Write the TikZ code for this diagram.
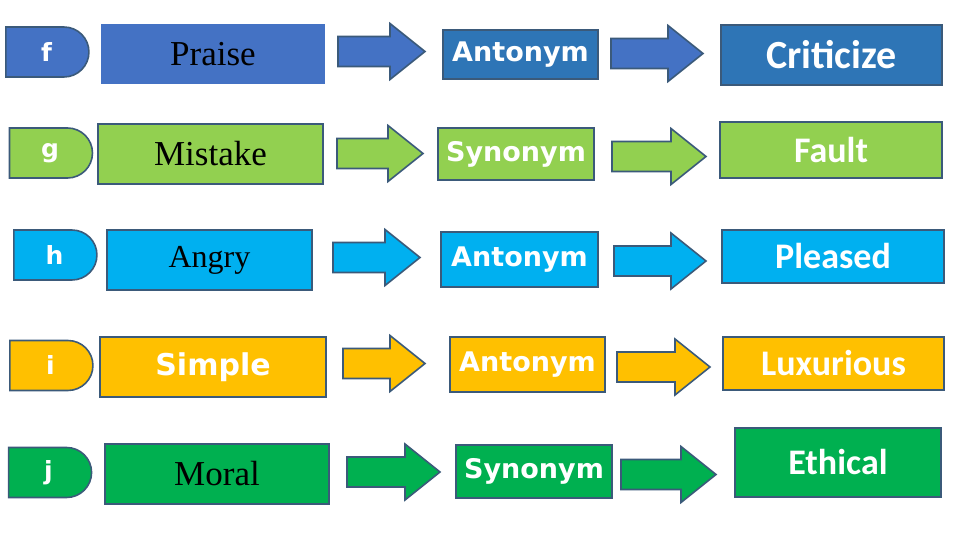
\documentclass[tikz,border=0pt]{standalone}
\usepackage{fontspec}
\setmainfont{Liberation Serif}
\newfontfamily\heavysans{DejaVu Sans}
\newfontfamily\calsans{Carlito}
\usetikzlibrary{shapes.misc}

\definecolor{edge}{HTML}{3B5A7A}
\definecolor{bluef}{HTML}{4472C4}
\definecolor{darkf}{HTML}{2E75B6}
\definecolor{greeng}{HTML}{92D050}
\definecolor{cyanh}{HTML}{00B0F0}
\definecolor{goldi}{HTML}{FFC000}
\definecolor{greenj}{HTML}{00B050}

\begin{document}
\begin{tikzpicture}[
    x=0.5pt, y=-0.5pt,
    tab/.style={rounded rectangle, rounded rectangle west arc=none, draw=edge, line width=0.8pt, fill=#1,
        minimum width=41.5pt, minimum height=25pt, inner sep=0pt, text=white,
        font=\heavysans\bfseries\fontsize{12.5}{12.5}\selectfont},
    word/.style={draw=edge, line width=0.8pt, fill=#1, inner sep=0pt, text=black,
        font=\fontsize{17.5}{18}\selectfont},
    rel/.style={draw=edge, line width=0.8pt, fill=#1, inner sep=0pt, text=white,
        font=\heavysans\bfseries\fontsize{13.5}{13.5}\selectfont},
    res/.style={draw=edge, line width=0.8pt, fill=#1, inner sep=0pt, text=white,
        font=\calsans\bfseries\fontsize{18}{18}\selectfont},
    wh/.style 2 args={minimum width=#1, minimum height=#2},
    pics/blockarrow/.style 2 args={code={
        \draw[draw=edge, line width=0.8pt, fill=#1]
            (-#2/2,-15) -- (#2/2-35,-15) -- (#2/2-35,-28) -- (#2/2,0)
            -- (#2/2-35,28) -- (#2/2-35,15) -- (-#2/2,15) -- cycle;
        \coordinate (-tip) at (#2/2,0);
    }}
]
\fill[white] (0,0) rectangle (960,540);
\useasboundingbox (0,0) rectangle (960,540);

% Row f
\node[tab=bluef] (tf) at (46.5,52) {f};
\node[word=bluef, draw=none, wh={112pt}{30pt}] (praise) at (213,54) {Praise};
\pic (af1) at (381.5,51.5) {blockarrow={bluef}{87}};
\node[rel=darkf, wh={77.5pt}{24.5pt}] (antf) at (520.5,54.5) {Antonym};
\pic (af2) at (657,53.5) {blockarrow={bluef}{92}};
\node[res=darkf, wh={110.5pt}{30pt}, font=\calsans\bfseries\fontsize{20}{20}\selectfont] (crit) at (831.5,55) {Criticize};

% Row g
\node[tab=greeng] (tg) at (50,153) {g};
\node[word=greeng, wh={112.5pt}{30pt}] (mistake) at (210.5,154) {Mistake};
\pic (ag1) at (380,153.5) {blockarrow={greeng}{86}};
\node[rel=greeng, wh={78pt}{26pt}] (syng) at (516,154) {Synonym};
\pic (ag2) at (659,156.5) {blockarrow={greeng}{94}};
\node[res=greeng, wh={111pt}{28pt}] (fault) at (831,150) {Fault};

% Row h
\node[tab=cyanh] (th) at (54.5,255) {h};
\node[word=cyanh, wh={102.5pt}{30pt}, font=\fontsize{16}{16}\selectfont] (angry) at (209.5,260) {Angry};
\pic (ah1) at (376.5,257.5) {blockarrow={cyanh}{87}};
\node[rel=cyanh, wh={78.5pt}{27.5pt}] (anth) at (519.5,259.5) {Antonym};
\pic (ah2) at (660,261) {blockarrow={cyanh}{92}};
\node[res=cyanh, wh={111pt}{26.5pt}] (pleased) at (833,256.5) {Pleased};

% Row i
\node[tab=goldi] (ti) at (50.5,365.5) {i};
\node[rel=goldi, wh={113pt}{30pt}, font=\heavysans\bfseries\fontsize{15}{15}\selectfont] (simple) at (213,367) {Simple};
\pic (ai1) at (384,363.5) {blockarrow={goldi}{82}};
\node[rel=goldi, wh={77.5pt}{27.5pt}] (anti) at (527.5,364.5) {Antonym};
\pic (ai2) at (663.5,367) {blockarrow={goldi}{93}};
\node[res=goldi, wh={110.5pt}{26.5pt}] (luxurious) at (833.5,363.5) {Luxurious};

% Row j
\node[tab=greenj] (tj) at (48.5,472.5) {j};
\node[word=greenj, wh={112pt}{30pt}] (moral) at (217,474) {Moral};
\pic (aj1) at (393.5,472) {blockarrow={greenj}{93}};
\node[rel=greenj, wh={78pt}{26.5pt}] (synj) at (534,471.5) {Synonym};
\pic (aj2) at (668.5,474.5) {blockarrow={greenj}{95}};
\node[res=greenj, wh={103pt}{34.5pt}] (ethical) at (838,462.5) {Ethical};

\end{tikzpicture}
\end{document}
